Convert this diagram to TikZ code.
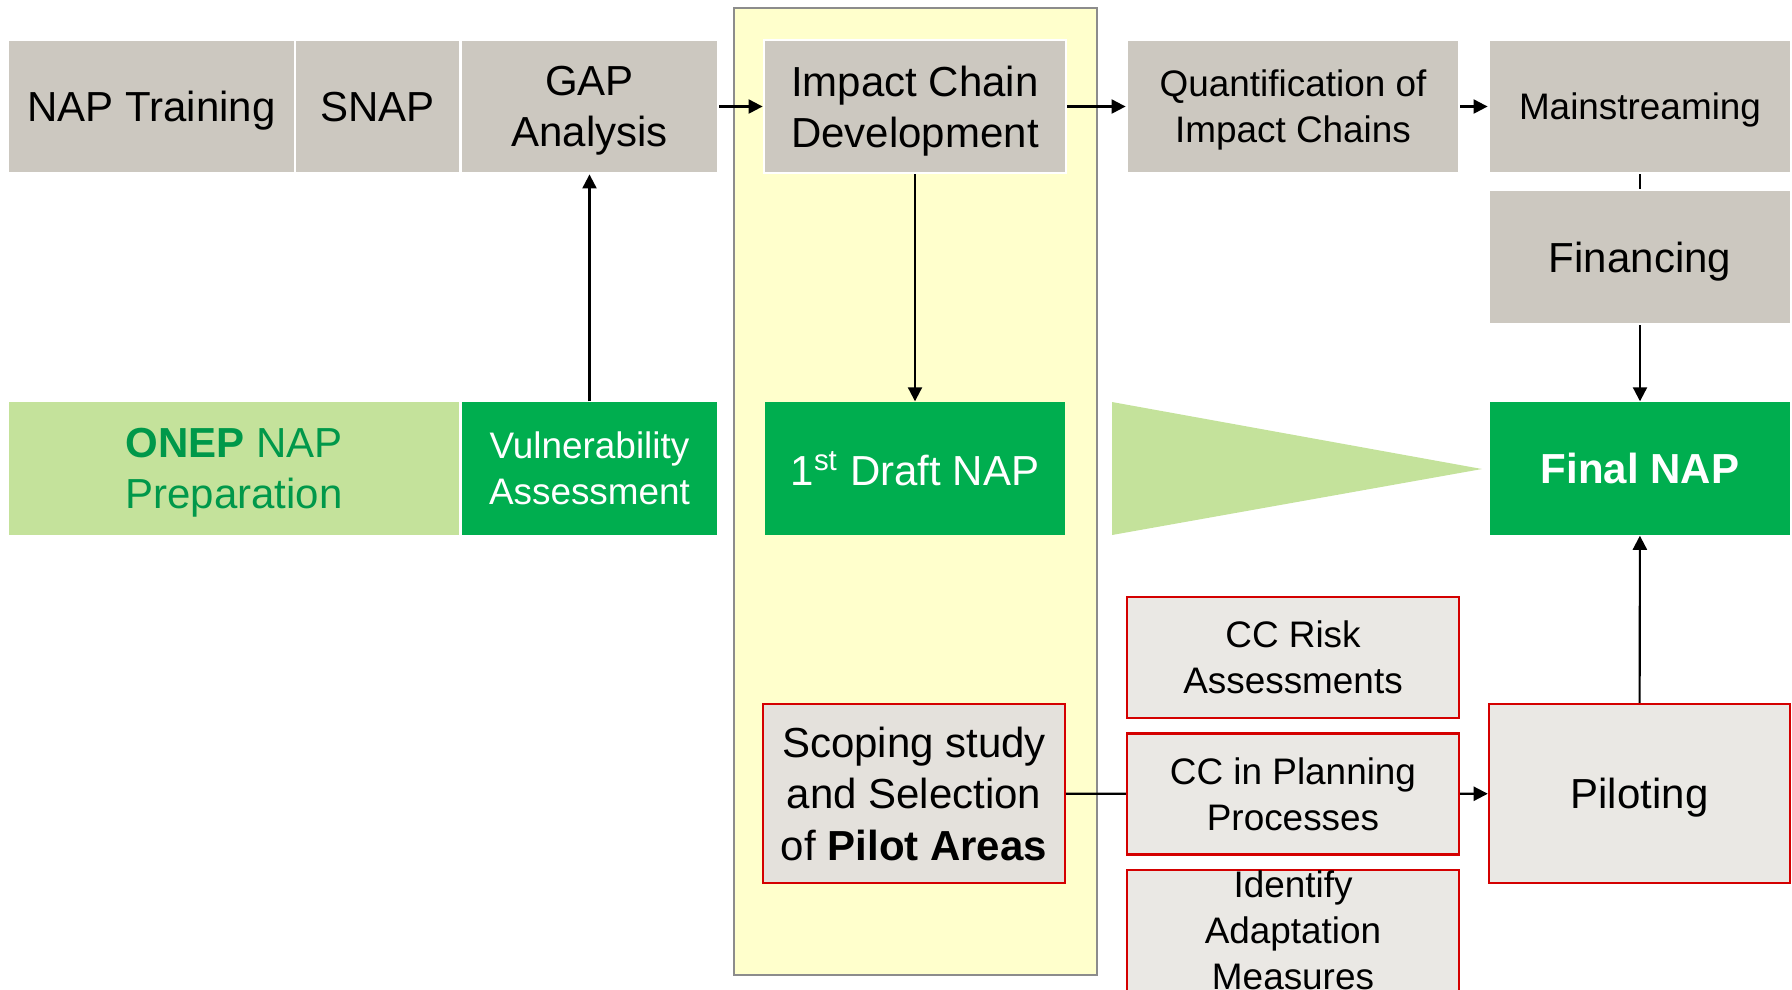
\documentclass[tikz,border=0pt]{standalone}
\usepackage{fontspec}
\setmainfont{Liberation Sans}
\usepackage{xcolor}
\usepackage{tikz}
\usetikzlibrary{arrows.meta}

\definecolor{boxgray}{HTML}{CCC8C0}
\definecolor{palegray}{HTML}{EAE8E4}
\definecolor{scopegray}{HTML}{E4E1DC}
\definecolor{napgreen}{HTML}{00AE4F}
\definecolor{lightgreen}{HTML}{C4E29B}
\definecolor{textgreen}{HTML}{00984A}
\definecolor{paleyellow}{HTML}{FFFFCC}
\definecolor{bordergray}{HTML}{8C8C8C}
\definecolor{boxred}{HTML}{D40000}

\newcommand{\bigtext}{\fontsize{11.95pt}{14.6pt}\selectfont}
\newcommand{\smalltext}{\fontsize{10.5pt}{13.1pt}\selectfont}

\begin{document}
\begin{tikzpicture}[
        >={Triangle[length=4pt,width=4pt]},
        graybox/.style={rectangle, fill=boxgray, draw=white, line width=0.8pt, inner sep=0pt, align=center, font=\bigtext, text depth=0pt, minimum height=1.33cm},
        greenbox/.style={rectangle, fill=napgreen, draw=none, inner sep=0pt, align=center, font=\bigtext, text depth=0pt, text=white, minimum height=1.33cm},
        redbox/.style={rectangle, fill=palegray, draw=boxred, line width=0.7pt, inner sep=0pt, align=center, font=\smalltext, text depth=0pt, minimum width=3.32cm, minimum height=1.21cm},
        link/.style={black, line width=0.6pt}
    ]
        \useasboundingbox (0, 0) rectangle (17.92, -9.89);

        % Yellow column behind the draft stage
        \filldraw[fill=paleyellow, draw=bordergray, line width=0.8pt] (7.34, -0.08) rectangle (10.97, -9.75);

        % Top row
        \node[graybox, minimum width=2.87cm] (train) at (1.515, -1.065) {NAP Training};
        \node[graybox, minimum width=1.65cm] (snap) at (3.775, -1.065) {SNAP};
        \node[graybox, minimum width=2.57cm] (gap) at (5.895, -1.065) {GAP\\Analysis};
        \node[graybox, minimum width=3.02cm] (impact) at (9.15, -1.065) {Impact Chain\\Development};
        \node[graybox, font=\smalltext, minimum width=3.32cm] (quant) at (12.93, -1.065) {Quantification of\\Impact Chains};
        \node[graybox, font=\smalltext, minimum width=3.02cm] (mainstr) at (16.40, -1.065) {Mainstreaming};
        \node[graybox, minimum width=3.02cm, minimum height=1.34cm] (fin) at (16.40, -2.57) {Financing};
        \draw[->, link] (gap) -- (impact);
        \draw[->, link] (impact) -- (quant);
        \draw[->, link] (quant) -- (mainstr);
        \draw[link] (mainstr) -- (fin);

        % Green row
        \node[rectangle, fill=lightgreen, inner sep=0pt, align=center, font=\bigtext, text depth=0pt, text=textgreen, minimum width=4.50cm, minimum height=1.33cm] (onep) at (2.34, -4.685) {\textbf{ONEP} NAP\\Preparation};
        \node[greenbox, font=\smalltext, minimum width=2.55cm] (vuln) at (5.895, -4.685) {Vulnerability\\Assessment};
        \node[greenbox, minimum width=3.0cm] (draft) at (9.15, -4.685) {1\textsuperscript{st} Draft NAP};
        \node[greenbox, minimum width=3.0cm] (final) at (16.40, -4.685) {\textbf{Final NAP}};
        \fill[lightgreen] (11.12, -4.02) -- (11.12, -5.35) -- (14.82, -4.69) -- cycle;
        \draw[->, link] (vuln) -- (gap);
        \draw[->, link] (impact) -- (draft);
        \draw[->, link] (fin) -- (final);

        % Pilot areas
        \node[redbox, font=\bigtext, fill=scopegray, minimum width=3.02cm, minimum height=1.79cm] (scope) at (9.14, -7.935) {Scoping study\\and Selection\\of \textbf{Pilot Areas}};
        \node[redbox] (risk) at (12.93, -6.575) {CC Risk\\Assessments};
        \node[redbox] (plan) at (12.93, -7.94) {CC in Planning\\Processes};
        \node[redbox] (adapt) at (12.93, -9.305) {Identify\\Adaptation\\Measures};
        \node[redbox, font=\bigtext, minimum width=3.01cm, minimum height=1.79cm] (pilot) at (16.395, -7.935) {Piloting};
        \draw[link] (scope) -- (plan);
        \draw[->, link] (plan) -- (pilot);
        \draw[->, link] (pilot) -- (final);
    \end{tikzpicture}
\end{document}
